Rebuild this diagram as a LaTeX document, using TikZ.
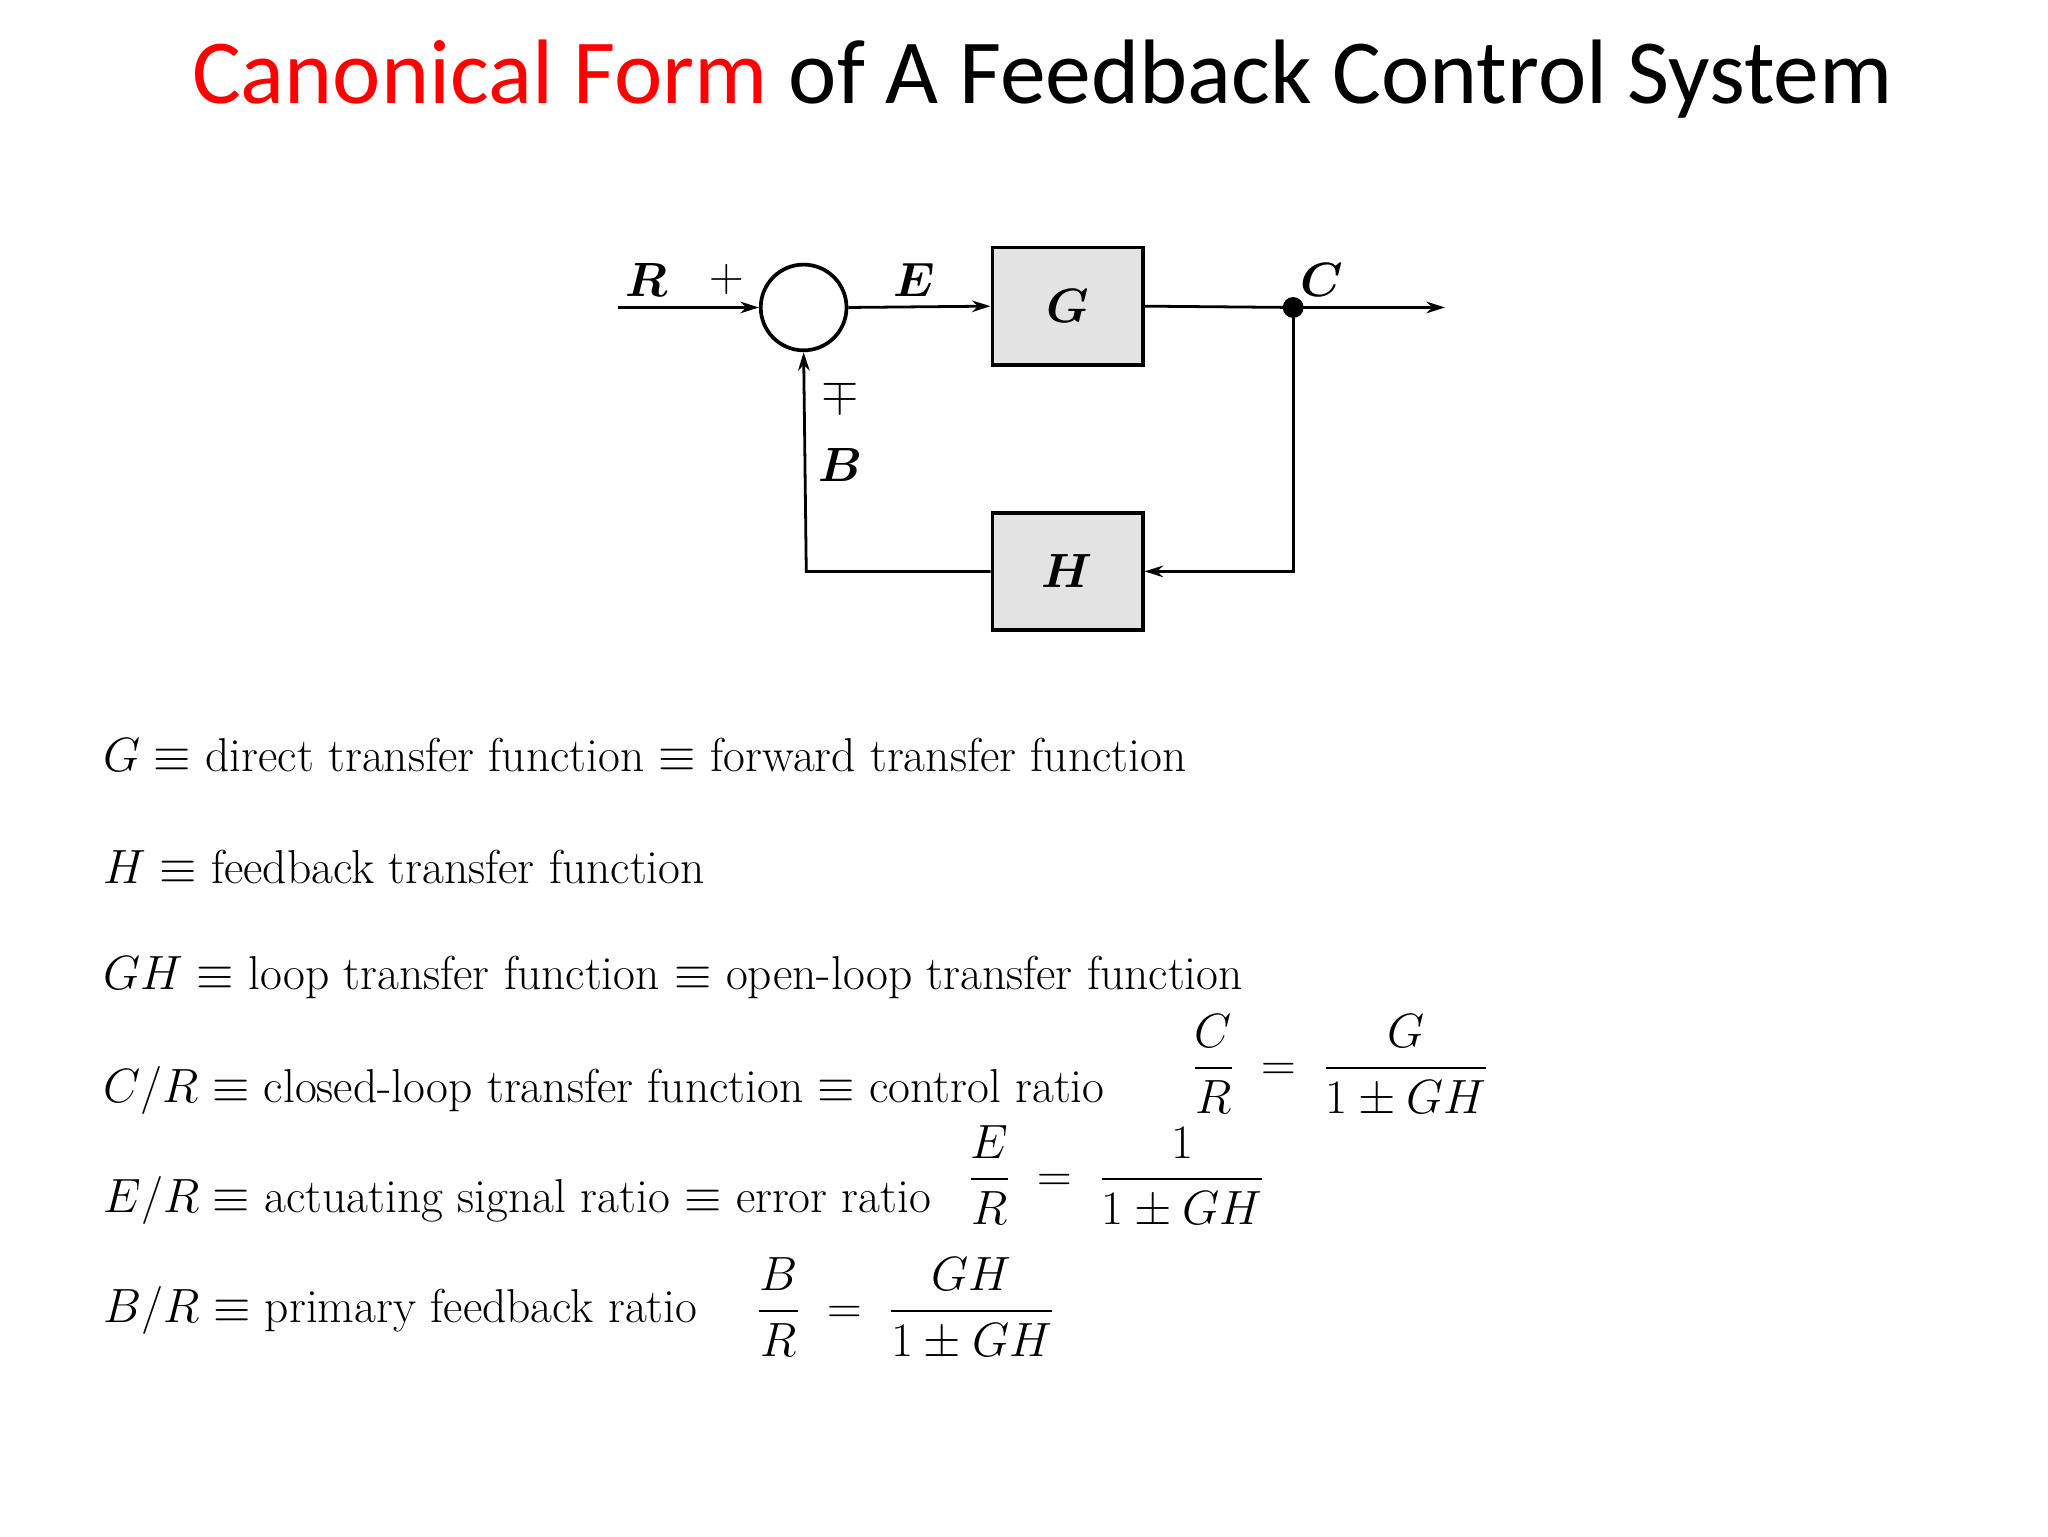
\documentclass[tikz,border=0pt]{standalone}
\usepackage{amsmath,amssymb,bm}
\usepackage{fontspec}
\newfontfamily\titlefont{Carlito}
\usetikzlibrary{arrows.meta}
\begin{document}
\begin{tikzpicture}[x=0.02cm,y=-0.02cm,
  blk/.style={draw,line width=1.6pt,fill=gray!22,minimum width=2.28cm,minimum height=1.78cm,font=\fontsize{22}{26}\selectfont},
  sig/.style={line width=1.2pt},
  arr/.style={sig,-{Stealth[length=8pt,width=5pt]}},
  lbl/.style={font=\fontsize{22}{26}\selectfont},
  txt/.style={anchor=west,inner sep=0pt,font=\fontsize{20.5}{24}\selectfont},
  frc/.style={anchor=west,inner sep=0pt,font=\fontsize{20}{24}\selectfont}]
\useasboundingbox (0,0) rectangle (1552,1164);
\node[font=\titlefont\fontsize{39.5}{46}\selectfont] (title) at (790,60) {\textcolor{red}{Canonical Form} of A Feedback Control System};
\node[draw,circle,line width=1.6pt,minimum size=1.3cm,inner sep=0pt] (sum) at (609,233) {};
\node[blk] (G) at (809,232) {$\bm{G}$};
\node[blk] (H) at (809,433) {$\bm{H}$};
\coordinate (in) at (468,233);
\coordinate (j) at (980,233);
\coordinate (out) at (1095,233);
\coordinate (jb) at (980,433);
\coordinate (fb) at (611,433);
\draw[arr] (in) -- (sum.west);
\draw[arr] (sum.east) -- (G.west);
\draw[sig] (G.east) -- (j);
\draw[arr] (j) -- (out);
\fill (j) circle (4.5pt);
\draw[arr] (j) -- (jb) -- (H.east);
\draw[arr] (H.west) -- (fb) -- (sum.south);
\node[lbl] (lR) at (490,212) {$\bm{R}$};
\node[lbl] (lp) at (551,212) {$+$};
\node[lbl] (lE) at (693,212) {$\bm{E}$};
\node[lbl] (lC) at (1002,212) {$\bm{C}$};
\node[lbl] (lmp) at (637,300) {$\mp$};
\node[lbl] (lB) at (637,352) {$\bm{B}$};
\node[txt] (t1) at (78,572) {$G\equiv$ direct transfer function $\equiv$ forward transfer function};
\node[txt] (t2) at (78,657) {$H\equiv$ feedback transfer function};
\node[txt] (t3) at (78,741) {$GH\equiv$ loop transfer function $\equiv$ open-loop transfer function};
\node[txt] (t4) at (78,826) {$C/R\equiv$ closed-loop transfer function $\equiv$ control ratio};
\node[txt] (t5) at (78,910) {$E/R\equiv$ actuating signal ratio $\equiv$ error ratio};
\node[txt] (t6) at (78,993) {$B/R\equiv$ primary feedback ratio};
\node[frc] (f4) at (903,808) {$\displaystyle \frac{C}{R}\;=\;\frac{G}{1\pm GH}$};
\node[frc] (f5) at (733,892) {$\displaystyle \frac{E}{R}\;=\;\frac{1}{1\pm GH}$};
\node[frc] (f6) at (573,992) {$\displaystyle \frac{B}{R}\;=\;\frac{GH}{1\pm GH}$};
\end{tikzpicture}
\end{document}
